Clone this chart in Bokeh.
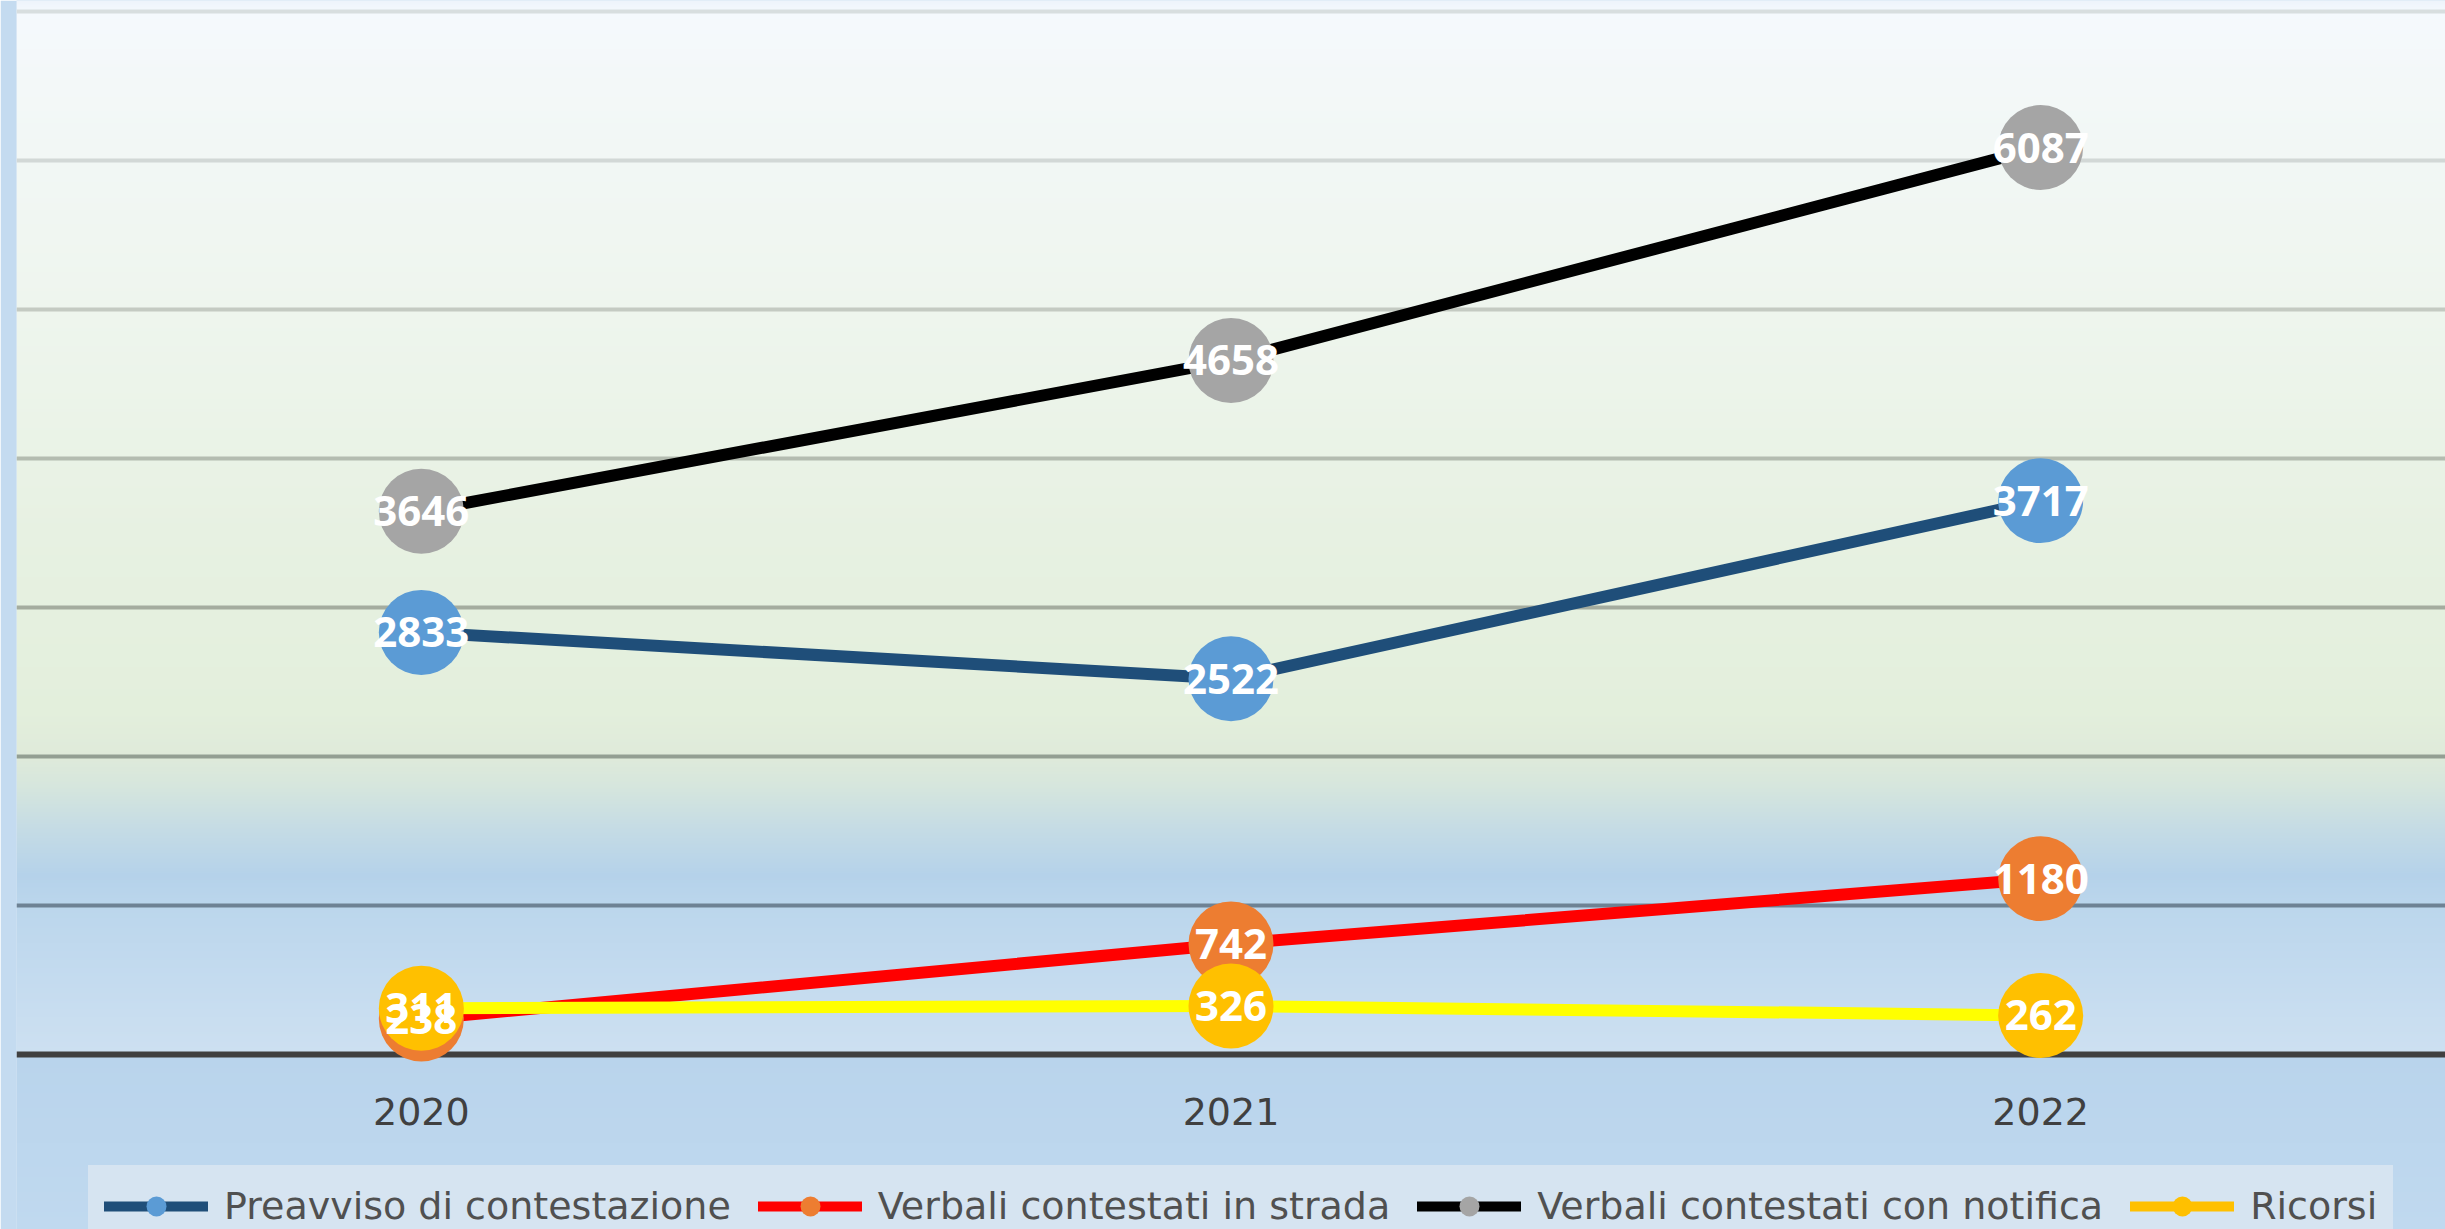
import numpy as np
from bokeh.plotting import figure
from bokeh.models import (ColumnDataSource, FactorRange, Range1d, Legend, LegendItem,
                          CategoricalAxis)
from bokeh.core.properties import value
from bokeh.embed import file_html
from bokeh.resources import INLINE

# ---------------- data ----------------
years = ["2020", "2021", "2022"]
preavviso = [2833, 2522, 3717]
verbali_strada = [238, 742, 1180]
verbali_notifica = [3646, 4658, 6087]
ricorsi = [311, 326, 262]

series_names = [
    "Preavviso di contestazione",
    "Verbali contestati in strada",
    "Verbali contestati con notifica",
    "Ricorsi",
]
series_values = [preavviso, verbali_strada, verbali_notifica, ricorsi]
line_colors = ["#1f4e79", "#ff0000", "#000000", "#ffff00"]
legend_line_colors = ["#1f4e79", "#ff0000", "#000000", "#ffc000"]
marker_colors = ["#5b9bd5", "#ed7d31", "#a5a5a5", "#ffc000"]

y_ticks = [0, 1000, 2000, 3000, 4000, 5000, 6000, 7000]
grid_colors = ["#6e8294", "#939f93", "#a4ac9f", "#b4bcb0", "#c4cac2", "#d2d8d6", "#d8dedf"]

W, H = 2445, 1229
# vertical layout in pixels: value axis from y=0 (px 1054) to 7000 (px 11)
px_top, px_zero = 11, 1054
upp = (y_ticks[-1] - y_ticks[0]) / (px_zero - px_top)      # units per pixel
y_start = y_ticks[0] - (H - px_zero) * upp
y_end = y_ticks[-1] + px_top * upp

# background gradient stops (value, colour)
grad_stops = [
    (y_start, "#c0d9ef"), (-8, "#b9d4ec"), (0, "#cde0f1"), (500, "#c4dbef"),
    (1000, "#bbd6ec"), (1200, "#b5d2ea"), (1500, "#c4dbe5"), (1800, "#d6e6dd"),
    (2000, "#dfeada"), (2300, "#e3efdc"), (3500, "#e7f1e2"), (4500, "#ecf4ea"),
    (5500, "#f0f6f1"), (6500, "#f3f8f8"), (7000, "#f5f9fd"), (y_end, "#eef4fb"),
]

p = figure(
    x_range=FactorRange(*years),
    y_range=Range1d(y_start, y_end),
    width=W, height=H,
    output_backend="svg", toolbar_location=None,
    x_axis_location=None, y_axis_location=None,
    min_border_left=16, min_border_right=0, min_border_top=0, min_border_bottom=0,
)
p.border_fill_color = "#c4dbf0"
p.background_fill_color = "#bdd7ee"
p.outline_line_color = None
p.xgrid.visible = False
p.ygrid.visible = False

# gradient background (synthetic categorical coordinates 0..len(years))
N = H
ys = np.linspace(y_start, y_end, N)
sv = [s[0] for s in grad_stops]
def ch(c, i):
    return int(c[1 + 2 * i:3 + 2 * i], 16)
img = np.empty((N, 1), dtype=np.uint32)
view = img.view(dtype=np.uint8).reshape((N, 1, 4))
for i in range(3):
    view[:, 0, i] = np.round(np.interp(ys, sv, [ch(s[1], i) for s in grad_stops])).astype(np.uint8)
view[:, 0, 3] = 255
p.image_rgba(image=[img], x=0, y=y_start, dw=len(years), dh=y_end - y_start, level="image")

# grid lines
p.hspan(y=y_ticks[1:], line_color=grid_colors, line_width=4, level="underlay")

# x axis fixed at value 0 (drawn beneath the markers)
ax = CategoricalAxis(fixed_location=y_ticks[0], level="underlay")
ax.axis_line_color = "#404040"
ax.axis_line_width = 6
ax.major_tick_line_color = None
ax.minor_tick_line_color = None
ax.major_tick_out = 0
ax.major_tick_in = 0
ax.major_label_standoff = 43
ax.major_label_text_font = "DejaVu Sans"
ax.major_label_text_font_size = "38px"
ax.major_label_text_color = "#404040"
p.add_layout(ax, "below")

# series
for vals, lc, mc in zip(series_values, line_colors, marker_colors):
    src = ColumnDataSource(data=dict(x=years, y=vals))
    p.line("x", "y", source=src, line_color=lc, line_width=12, line_join="round")
    p.scatter("x", "y", source=src, size=85, fill_color=mc, line_color=None)

# data labels
for vals in series_values:
    src = ColumnDataSource(data=dict(x=years, y=vals, t=[str(v) for v in vals]))
    p.text("x", "y", text="t", source=src, text_color="white",
           text_font=value("Open Sans"), text_font_style="bold", text_font_size="42px",
           text_align="center", text_baseline="middle")

# legend (separate non-drawing renderers so legend colours can differ)
items = []
for name, lc, mc in zip(series_names, legend_line_colors, marker_colors):
    ghost = ColumnDataSource(data=dict(x=years, y=np.full(len(years), np.nan)))
    lr = p.line("x", "y", source=ghost, line_color=lc, line_width=10, line_cap="round")
    sr = p.scatter("x", "y", source=ghost, size=24, fill_color=mc, line_color=None)
    items.append(LegendItem(label=name, renderers=[lr, sr]))

legend = Legend(
    items=items, location=(72, -18), orientation="horizontal",
    glyph_width=104, glyph_height=50, label_standoff=16, spacing=27,
    padding=15, margin=0,
    background_fill_color="#d6e4f1", background_fill_alpha=1.0,
    border_line_color="#d6e4f1", border_line_width=1,
    label_text_font="DejaVu Sans", label_text_font_size="38px",
    label_text_color="#505050",
)
p.add_layout(legend)

open("out.html", "w").write(file_html(p, INLINE))
